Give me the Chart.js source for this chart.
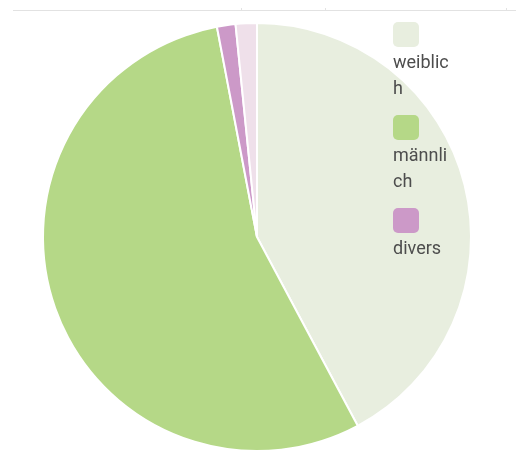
<!DOCTYPE html>
<html lang="de">
<head>
    <meta charset="UTF-8">
    <title>Geschlecht</title>
    <style>
        body { margin: 0; background: #fff; }
        canvas { display: block; }
    </style>
</head>
<body>
    <canvas id="pieChart" width="516" height="463"></canvas>

    <script src="https://cdn.jsdelivr.net/npm/chart.js"></script>
    <script>
        const labels = ['weiblich', 'männlich', 'divers', 'keine Angabe'];
        const values = [42.2, 54.8, 1.4, 1.6];
        const colors = ['#e8eedf', '#b5d887', '#cc99c8', '#efe0ea'];
        // legend shows wrapped labels like the original
        const legendLines = [['weiblic', 'h'], ['männli', 'ch'], ['divers']];

        // thin rule across the top with little ticks
        const topRule = {
            id: 'topRule',
            beforeDraw(chart) {
                const ctx = chart.ctx;
                ctx.save();
                ctx.strokeStyle = '#e2e2e2';
                ctx.lineWidth = 1;
                ctx.beginPath();
                ctx.moveTo(13, 10.5);
                ctx.lineTo(516, 10.5);
                [241, 325, 506].forEach(x => {
                    ctx.moveTo(x + 0.5, 8);
                    ctx.lineTo(x + 0.5, 10);
                });
                ctx.stroke();
                ctx.restore();
            }
        };

        // legend drawn over the pie
        const stackedLegend = {
            id: 'stackedLegend',
            afterDraw(chart) {
                const ctx = chart.ctx;
                ctx.save();
                ctx.font = '18px Roboto, sans-serif';
                ctx.textBaseline = 'middle';
                let y = 22;
                legendLines.forEach((lines, i) => {
                    ctx.fillStyle = colors[i];
                    ctx.beginPath();
                    ctx.roundRect(393, y, 26, 25, 5);
                    ctx.fill();
                    y += 41;
                    ctx.fillStyle = '#4d4d4d';
                    lines.forEach(t => {
                        ctx.fillText(t, 393, y);
                        y += 26;
                    });
                });
                ctx.restore();
            }
        };

        new Chart(document.getElementById('pieChart'), {
            type: 'pie',
            data: {
                labels: labels,
                datasets: [{
                    data: values,
                    backgroundColor: colors,
                    borderColor: '#ffffff',
                    borderWidth: 2
                }]
            },
            options: {
                responsive: false,
                animation: false,
                layout: { padding: { left: 42, top: 22, right: 44, bottom: 11 } },
                plugins: {
                    legend: { display: false },
                    tooltip: { enabled: false }
                }
            },
            plugins: [topRule, stackedLegend]
        });
    </script>
</body>
</html>
